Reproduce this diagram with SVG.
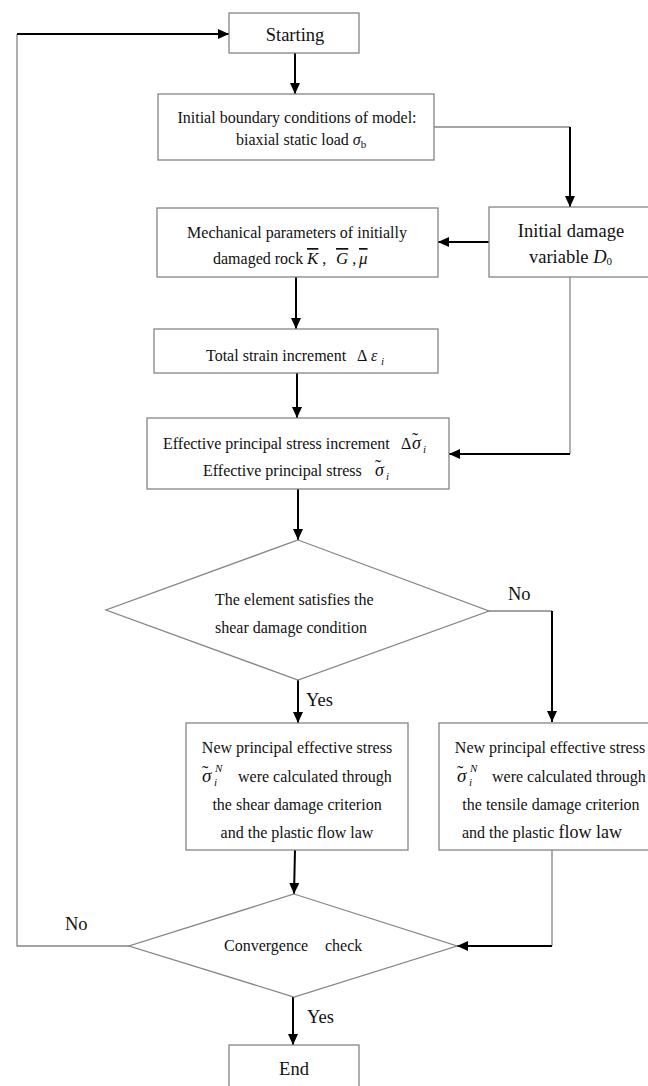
<svg xmlns="http://www.w3.org/2000/svg" width="648" height="1086" viewBox="0 0 648 1086">
<defs>
<marker id="ah" markerWidth="12" markerHeight="10" refX="11" refY="5" orient="auto" markerUnits="userSpaceOnUse">
<path d="M0,0 L11,5 L0,10 Z" fill="#000"/>
</marker>
<style>
.box{fill:#fff;stroke:#858585;stroke-width:1.3}
.t{font-family:"Liberation Serif","Times New Roman",serif;font-size:16px;fill:#111}
.tl{font-family:"Liberation Serif","Times New Roman",serif;font-size:18.5px;fill:#111}
.c{text-anchor:middle}
.it{font-style:italic}
.sub{font-size:11px}
.ol{text-decoration:overline}
.arr{fill:none;stroke:#000;stroke-width:2;marker-end:url(#ah)}
.pl{fill:none;stroke:#858585;stroke-width:1.3}
</style>
</defs>
<rect width="648" height="1086" fill="#fff"/>
<g id="connectors">
<line class="arr" x1="295" y1="53" x2="295" y2="94"/>
<polyline class="pl" points="434,127 570,127"/>
<line class="arr" x1="570" y1="127" x2="570" y2="207"/>
<line class="arr" x1="489" y1="242" x2="438" y2="242"/>
<line class="arr" x1="296" y1="277" x2="296" y2="329"/>
<line class="arr" x1="297" y1="373" x2="297" y2="418"/>
<polyline class="pl" points="570,277 570,454"/>
<line class="arr" x1="570" y1="454" x2="449" y2="454"/>
<line class="arr" x1="298" y1="489" x2="298" y2="540"/>
<polyline class="pl" points="489,611 552,611"/>
<line class="arr" x1="552" y1="611" x2="552" y2="722"/>
<line class="arr" x1="298" y1="680" x2="298" y2="723"/>
<line class="arr" x1="295" y1="850" x2="294" y2="894"/>
<polyline class="pl" points="129,946 17,946 17,34"/>
<line class="arr" x1="17" y1="34" x2="229" y2="34"/>
<polyline class="pl" points="552,850 552,946"/>
<line class="arr" x1="552" y1="946" x2="457" y2="946"/>
<line class="arr" x1="293" y1="997" x2="293" y2="1045"/>
<text class="tl" x="508" y="600">No</text>
<text class="tl" x="306" y="706">Yes</text>
<text class="tl" x="65" y="930">No</text>
<text class="tl" x="307" y="1023">Yes</text>
</g>
<g id="start">
<rect class="box" x="229" y="13" width="130" height="40"/>
<text class="tl c" x="295" y="41">Starting</text>
</g>
<g id="boundary">
<rect class="box" x="158" y="94" width="276" height="66"/>
<text class="t c" x="297" y="123">Initial boundary conditions of model:</text>
<text class="t" x="236" y="145">biaxial static load <tspan class="it">σ</tspan><tspan class="sub" dy="3">b</tspan></text>
</g>
<g id="damage">
<rect class="box" x="489" y="207" width="170" height="70"/>
<text class="tl c" x="571" y="237">Initial damage</text>
<text class="tl" x="529" y="263">variable <tspan class="it">D</tspan><tspan class="sub" font-size="13" dy="2">0</tspan></text>
</g>
<g id="mechanical">
<rect class="box" x="157" y="208" width="281" height="69"/>
<text class="t c" x="297" y="238">Mechanical parameters of initially</text>
<text class="t" x="213" y="264">damaged rock <tspan class="it ol" x="307" font-size="17">K</tspan><tspan> , </tspan><tspan class="it ol" x="336" font-size="17">G</tspan><tspan> , </tspan><tspan class="it ol" x="359" font-size="17">μ</tspan></text>
</g>
<g id="strain">
<rect class="box" x="154" y="329" width="284" height="44"/>
<text class="t" x="206" y="361">Total strain increment <tspan x="357">Δ</tspan><tspan class="it" x="371">ε</tspan><tspan class="it sub" x="381" dy="4">i</tspan></text>
</g>
<g id="effective">
<rect class="box" x="147" y="418" width="302" height="71"/>
<text class="t" x="163" y="449">Effective principal stress increment <tspan x="401">Δ</tspan><tspan class="it" x="412" font-size="18">σ</tspan><tspan x="412" dy="-3" font-size="18">˜</tspan><tspan class="it sub" x="423" dy="7">i</tspan></text>
<text class="t" x="203" y="476">Effective principal stress <tspan class="it" x="375" font-size="18">σ</tspan><tspan x="375" dy="-3" font-size="18">˜</tspan><tspan class="it sub" x="386" dy="7">i</tspan></text>
</g>
<g id="shear-check">
<polygon class="box" points="298,540 489,611 298,680 106,610"/>
<text class="t" x="215" y="605">The element satisfies the</text>
<text class="t" x="215" y="633">shear damage condition</text>
</g>
<g id="shear-calc">
<rect class="box" x="186" y="723" width="222" height="127"/>
<text class="t c" x="297" y="753">New principal effective stress</text>
<text class="t" x="202" y="782"><tspan class="it" font-size="19">σ</tspan><tspan x="202" dy="-3" font-size="19">˜</tspan><tspan class="it sub" x="215" dy="-7">N</tspan><tspan class="it sub" x="214" dy="14">i</tspan><tspan x="238" dy="-4">were calculated through</tspan></text>
<text class="t c" x="297" y="810">the shear damage criterion</text>
<text class="t c" x="297" y="838">and the plastic flow law</text>
</g>
<g id="tensile-calc">
<rect class="box" x="439" y="723" width="220" height="127"/>
<text class="t c" x="550" y="753">New principal effective stress</text>
<text class="t" x="457" y="782"><tspan class="it" font-size="19">σ</tspan><tspan x="457" dy="-3" font-size="19">˜</tspan><tspan class="it sub" x="470" dy="-7">N</tspan><tspan class="it sub" x="469" dy="14">i</tspan><tspan x="492" dy="-4">were calculated through</tspan></text>
<text class="t c" x="551" y="810">the tensile damage criterion</text>
<text class="t" x="462" y="838">and the plastic <tspan font-size="18">flow law</tspan></text>
</g>
<g id="convergence">
<polygon class="box" points="294,894 457,946 294,997 129,946"/>
<text class="t" x="224" y="951">Convergence<tspan x="325">check</tspan></text>
</g>
<g id="end">
<rect class="box" x="229" y="1045" width="130" height="50"/>
<text class="tl c" x="294" y="1075">End</text>
</g>
</svg>
